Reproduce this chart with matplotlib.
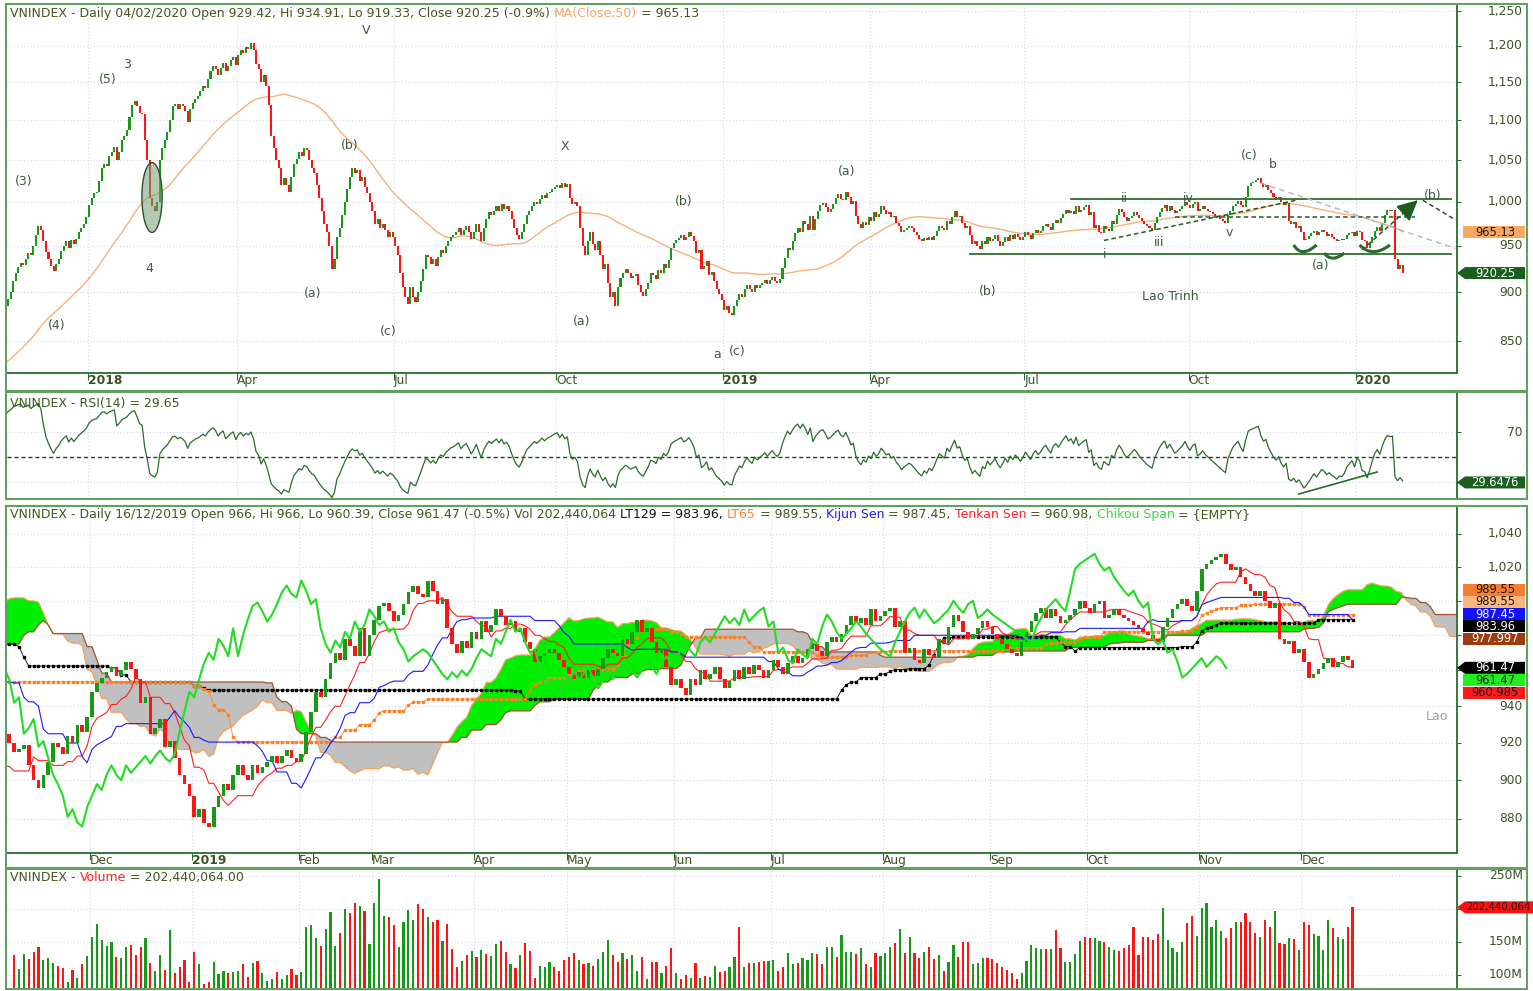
#!/usr/bin/env python3
"""VNINDEX daily chart: price + MA50, RSI(14), Ichimoku panel and volume."""

import matplotlib
matplotlib.use("Agg")
import matplotlib.pyplot as plt
import numpy as np
import pandas as pd
from matplotlib.patches import Ellipse, PathPatch, Polygon, Rectangle
from matplotlib.path import Path
from matplotlib.ticker import NullLocator
from matplotlib.transforms import blended_transform_factory

W, H = 1533, 991
plt.rcParams["font.family"] = ["DejaVu Sans"]

OLIVE = "#3f5a1f"
TICK = "#3b5323"
DARK = "#2b6b2b"
FRAME = "#62a062"
GRID = "#dadaf0"
UP = "#179a17"
DOWN = "#ff1414"
LABEL = "#3e5b3e"

HOLIDAYS = [
    "2018-01-01", "2018-02-14", "2018-02-15", "2018-02-16", "2018-02-19", "2018-02-20",
    "2018-04-25", "2018-04-30", "2018-05-01", "2018-09-03",
    "2019-01-01", "2019-02-04", "2019-02-05", "2019-02-06", "2019-02-07", "2019-02-08",
    "2019-04-15", "2019-04-29", "2019-04-30", "2019-05-01", "2019-09-02",
    "2020-01-01", "2020-01-23", "2020-01-24", "2020-01-27", "2020-01-28", "2020-01-29",
]

# daily closes from 2017-09-05 (first 53 sessions only feed MA/RSI)
close_2017 = [
    800, 803, 805, 802, 804, 806, 808, 806, 807, 810, 812, 809, 807, 804, 800, 797, 801, 803, 804,
    808, 812, 815, 818, 821, 820, 824, 826, 829, 832, 830, 835, 838, 835, 831, 829, 833, 836, 833, 837, 836, 838,
    842, 848, 851, 858, 863, 870, 868, 875, 882, 888, 886, 893, 900, 912, 920, 927, 931, 929, 936, 942, 940, 950,
    962, 972, 968, 955, 943, 935, 928, 922, 930, 935, 944, 950, 955, 948, 956, 952, 958, 965, 970, 975, 982,
]
close_2018 = [
    996, 1005, 1010, 1012, 1025, 1040, 1045, 1043, 1055, 1060, 1066, 1050, 1060, 1075, 1080, 1088, 1105, 1120, 1125, 1118, 1110, 1108,
    1075, 1050, 1005, 995, 990, 1000, 1050, 1065, 1075, 1085, 1100, 1118, 1121, 1115, 1121,
    1118, 1112, 1098, 1115, 1122, 1128, 1132, 1138, 1145, 1142, 1155, 1165, 1172, 1168, 1160, 1170, 1176, 1165, 1172, 1180, 1185, 1174,
    1188, 1195, 1190, 1198, 1196, 1204, 1195, 1175, 1168, 1150, 1160, 1145, 1120, 1080, 1065, 1050, 1040, 1020, 1028,
    1020, 1012, 1030, 1045, 1052, 1060, 1055, 1065, 1062, 1050, 1040, 1035, 1020, 1005, 990, 975, 965, 950, 925, 935, 960, 970,
    985, 1000, 1015, 1030, 1040, 1035, 1038, 1025, 1030, 1018, 1010, 1000, 990, 975, 980, 970, 975, 968, 960, 965, 960,
    950, 940, 920, 905, 895, 888, 905, 895, 890, 900, 912, 925, 940, 938, 930, 935, 928, 938, 945, 942, 950, 955,
    960, 962, 966, 970, 962, 968, 972, 966, 958, 965, 975, 965, 955, 970, 980, 988, 985, 990, 995, 990, 998, 992, 995,
    990, 980, 970, 962, 958, 965, 975, 985, 990, 995, 1000, 998, 1003, 1008, 1005, 1010, 1012, 1015, 1018,
    1020, 1016, 1022, 1018, 1021, 1005, 998, 1000, 995, 970, 950, 940, 955, 965, 952, 945, 955, 940, 925, 930, 910, 895, 900,
    885, 905, 915, 920, 925, 920, 915, 917, 919, 908, 900, 896, 903, 910, 920, 918, 914, 924, 920, 930, 926, 934,
    948, 953, 956, 959, 962, 957, 960, 965, 961, 955, 942, 945, 925, 928, 933, 918, 921, 912, 903, 898, 892,
]
close_2019 = [
    881, 885, 878, 876, 886, 892, 898, 895, 903, 908, 903, 900, 908, 904, 907, 910, 913, 909, 913, 916, 912, 910,
    914, 926, 937, 948, 945, 955, 964, 970, 966, 978, 974, 968, 984, 968, 980,
    989, 997, 999, 994, 988, 992, 998, 1005, 1009, 1004, 1002, 1012, 1006, 998, 1001, 984, 975, 970, 977, 973, 982,
    978, 988, 982, 986, 995, 991, 986, 988, 982, 984, 976, 972, 965, 968, 970, 972, 970, 966, 962,
    958, 955, 959, 956, 960, 957, 961, 967, 972, 970, 968, 978, 975, 982, 989, 982, 984, 976, 970, 972, 962, 952,
    955, 950, 946, 955, 952, 960, 955, 958, 962, 955, 950, 954, 960, 955, 962, 958, 963, 960, 956, 960,
    966, 962, 958, 964, 968, 964, 967, 972, 975, 971, 968, 976, 979, 976, 981, 986, 991, 987, 990, 986, 995, 988, 991,
    994, 996, 985, 988, 970, 973, 966, 964, 972, 969, 967, 978, 975, 985, 992, 988, 982, 978, 981, 984, 988, 985,
    981, 978, 975, 972, 970, 968, 976, 982, 988, 993, 996, 990, 995, 991, 987, 989, 992, 995, 1000, 996,
    993, 998, 1000, 990, 992, 995, 992, 990, 988, 986, 984, 982, 980, 978, 976, 985, 990, 995, 998, 1001, 997, 994, 1006,
    1019, 1022, 1024, 1026, 1028, 1022, 1018, 1020, 1014, 1010, 1006, 1003, 1006, 1000, 996, 999, 978, 975, 977, 970, 972,
    965, 956, 958, 961, 964, 967, 962, 965, 968, 966, 961.47, 963, 960, 958, 955, 957, 956, 958, 962, 964, 966, 961,
]
close_2020 = [967, 965, 956, 955, 948, 953, 960, 967, 971, 967, 976, 985, 991, 990, 991, 936, 925, 929, 920.25]

# daily volume in millions, 2018-11-09 .. 2019-12-16
volume_m = [
    130.3, 109.1, 131.4, 124.3, 134.4, 142.0, 122.8, 125.3, 117.7, 113.2, 110.2, 88.9, 107.6, 95.0, 116.7, 128.3,
    157.1, 176.8, 153.1, 144.5, 150.6, 127.8, 125.3, 143.0, 145.5, 130.3, 143.0, 155.6, 117.7, 106.1, 130.3, 107.6, 168.2, 102.6, 111.7, 122.8, 90.0,
    134.4, 116.7, 85.9, 90.0, 120.2, 101.1, 106.1, 102.6, 105.1, 106.1, 116.7, 96.5, 117.7, 121.8, 102.6, 91.0, 94.0, 104.1, 94.0, 100.0, 109.1, 100.0,
    104.1, 172.3, 175.3, 155.6, 144.0, 169.7, 196.0, 144.5, 163.2, 200.0, 193.5, 209.6, 204.6, 197.0, 146.5,
    209.6, 245.0, 189.4, 188.4, 175.8, 142.0, 179.8, 198.5, 183.4, 207.1, 200.0, 188.4, 179.8, 183.4, 151.6, 177.3, 139.4, 111.7, 121.3, 130.3, 136.9,
    127.8, 137.9, 131.4, 129.3, 147.0, 151.6, 135.4, 116.7, 110.2, 130.3, 148.0, 136.4, 95.0, 114.2, 111.7, 120.2, 112.7, 106.1, 122.8,
    126.8, 132.9, 122.8, 116.7, 117.7, 114.2, 123.8, 134.4, 153.1, 130.3, 119.2, 132.9, 124.3, 130.3, 106.1, 126.8, 94.0, 119.2, 119.2, 103.6, 113.7, 140.5,
    102.6, 94.0, 100.0, 95.0, 117.7, 95.0, 98.5, 97.5, 114.2, 104.1, 106.1, 112.7, 127.8, 173.3, 112.7, 118.7, 118.7, 120.2, 121.3, 121.3,
    122.3, 106.1, 112.7, 133.9, 116.7, 117.7, 125.3, 122.8, 132.9, 131.4, 116.7, 142.0, 142.0, 126.8, 160.7, 134.4, 134.4, 131.4, 140.5, 116.7, 111.7, 132.9, 129.3,
    132.9, 143.0, 148.0, 169.7, 132.9, 157.1, 132.9, 125.3, 134.4, 142.0, 123.8, 130.3, 106.1, 120.2, 145.5, 127.8, 150.6, 150.6, 116.7, 118.7, 125.3, 125.3,
    124.3, 118.7, 112.7, 107.6, 102.6, 94.0, 102.6, 121.3, 145.5, 141.5, 139.4, 138.9, 138.9, 168.2, 140.5, 119.2, 120.2, 131.4, 151.6, 157.1,
    156.6, 155.6, 151.6, 149.5, 143.0, 137.9, 136.9, 140.5, 145.5, 172.3, 130.3, 157.1, 157.1, 153.1, 162.2, 201.1, 153.1, 141.5, 135.4, 149.5, 178.3, 189.4, 159.1,
    201.1, 208.6, 172.3, 183.4, 166.7, 156.6, 170.8, 179.8, 179.8, 193.5, 179.8, 163.2, 158.1, 183.4, 172.3, 197.5, 148.0, 146.5, 156.6, 154.6, 137.9,
    180.8, 175.8, 162.2, 159.1, 137.9, 183.4, 170.8, 158.1, 154.6, 172.3, 202.4,
]

price_ticks = [("2018-01-01", "2018"), ("2018-04-01", "Apr"), ("2018-07-01", "Jul"), ("2018-10-01", "Oct"),
               ("2019-01-01", "2019"), ("2019-04-01", "Apr"), ("2019-07-01", "Jul"), ("2019-10-01", "Oct"),
               ("2020-01-01", "2020")]
ichi_ticks = [("2018-12-01", "Dec"), ("2019-01-01", "2019"), ("2019-02-01", "Feb"), ("2019-03-01", "Mar"),
              ("2019-04-01", "Apr"), ("2019-05-01", "May"), ("2019-06-01", "Jun"), ("2019-07-01", "Jul"),
              ("2019-08-01", "Aug"), ("2019-09-01", "Sep"), ("2019-10-01", "Oct"), ("2019-11-01", "Nov"),
              ("2019-12-01", "Dec")]

# wave counts written on the price panel (text, x px, y px)
wave_labels = [
    ("V", 366, 30), ("3", 127, 64), ("(5)", 108, 80), ("(3)", 24, 182), ("4", 149, 269), ("(4)", 57, 325),
    ("(b)", 350, 145), ("X", 565, 146), ("(a)", 313, 294), ("(c)", 388, 332), ("(a)", 582, 321),
    ("(b)", 684, 202), ("a", 717, 354), ("(c)", 737, 352), ("(a)", 847, 172), ("(b)", 988, 291),
    ("ii", 1124, 199), ("iv", 1188, 199), ("i", 1105, 254), ("iii", 1159, 243), ("v", 1229, 232),
    ("(c)", 1249, 156), ("b", 1273, 165), ("(b)", 1433, 195), ("(a)", 1321, 266), ("Lao Trinh", 1170, 297),
]


def rect(x0, y0, x1, y1):
    return [x0 / W, 1 - y1 / H, (x1 - x0) / W, (y1 - y0) / H]


def trading_calendar():
    cal = pd.bdate_range("2017-09-05", "2020-04-30")
    return cal[~cal.isin(pd.to_datetime(HOLIDAYS))]


CAL = trading_calendar()


def pos(d):
    return int(CAL.searchsorted(pd.Timestamp(d)))


def candles(ax, x, o, c, width):
    lo = np.minimum(o, c)
    hi = np.maximum(o, c)
    h = np.maximum(hi - lo, lo * 0.0012)
    colors = np.where(c >= o, UP, DOWN)
    ax.bar(x, h, bottom=lo, width=width, color=colors, linewidth=0, zorder=3)


def base_style(ax, xlim, ylim, yticks, ticks, show_dates, log=False, bottom_spine=False):
    if log:
        ax.set_yscale("log")
    ax.set_xlim(*xlim)
    ax.set_ylim(*ylim)
    ax.set_yticks(yticks)
    ax.yaxis.set_minor_locator(NullLocator())
    ax.xaxis.set_minor_locator(NullLocator())
    xs = [pos(d) - 0.5 for d, _ in ticks]
    ax.set_xticks(xs)
    for s in ("top", "left"):
        ax.spines[s].set_visible(False)
    ax.spines["right"].set_color(DARK)
    ax.spines["right"].set_linewidth(1.3)
    ax.spines["bottom"].set_visible(bottom_spine)
    ax.spines["bottom"].set_color(DARK)
    ax.spines["bottom"].set_linewidth(1.3)
    ax.tick_params(axis="y", left=False, right=True, labelleft=False, labelright=False,
                   direction="out", length=3, color=DARK)
    if show_dates:
        ax.set_xticklabels([lab for _, lab in ticks], ha="left", fontsize=8.8, color=TICK)
        for t in ax.get_xticklabels():
            if t.get_text().isdigit():
                t.set_fontweight("bold")
        ax.tick_params(axis="x", direction="out", length=5, color=DARK, pad=-4)
    else:
        ax.tick_params(axis="x", length=0, labelbottom=False)
    ax.grid(True, color=GRID, linestyle=":", linewidth=0.9)
    ax.set_axisbelow(True)
    ax.patch.set_visible(False)


def ylabels(ax, values, texts):
    tr = blended_transform_factory(ax.transAxes, ax.transData)
    for v, t in zip(values, texts):
        ax.text(1.0455, v, t, transform=tr, ha="right", va="center", fontsize=8.8, color=TICK, clip_on=False)


def ypix(ax, value):
    return H - ax.transData.transform((ax.get_xlim()[0], value))[1]


def tag(ov, y, text, fc, tc, arrow=False, x0=1463, x1=1525, left_text=False, size=8.3):
    h = 6.0
    if arrow:
        verts = [(1457, y), (1465, y - h), (x1, y - h), (x1, y + h), (1465, y + h)]
    else:
        verts = [(x0, y - h), (x1, y - h), (x1, y + h), (x0, y + h)]
    ov.add_patch(Polygon(verts, closed=True, fc=fc, ec="none", zorder=5))
    if left_text:
        ov.text(1466, y, text, ha="left", va="center", fontsize=size, color=tc, zorder=6)
    else:
        ov.text((x0 + x1) / 2 + 1, y, text, ha="center", va="center", fontsize=size, color=tc, zorder=6)


def chain_text(fig, ov, x, y, parts, size=9.0):
    # lay the coloured pieces one after another on a common baseline
    renderer = fig.canvas.get_renderer()
    for s, col in parts:
        t = ov.text(x, y, s, color=col, fontsize=size, ha="left", va="center_baseline")
        x += t.get_window_extent(renderer).width


def smile(ax, pts, color):
    (d0, p0), (d1, p1), (d2, p2) = pts
    ctrl = 2 * p1 - (p0 + p2) / 2
    path = Path([(pos(d0), p0), (pos(d1), ctrl), (pos(d2), p2)], [Path.MOVETO, Path.CURVE3, Path.CURVE3])
    ax.add_patch(PathPatch(path, fc="none", ec=color, lw=2.2, zorder=5))


def rsi(series, n=14):
    delta = series.diff()
    gain = delta.clip(lower=0).ewm(alpha=1 / n, adjust=False).mean()
    loss = (-delta.clip(upper=0)).ewm(alpha=1 / n, adjust=False).mean()
    return 100 - 100 / (1 + gain / loss)


def main():
    closes = pd.Series(close_2017 + close_2018 + close_2019 + close_2020, dtype=float)
    opens = closes.shift(1).fillna(closes.iloc[0])
    x_all = np.arange(len(closes))

    fig = plt.figure(figsize=(W / 100, H / 100), dpi=100)
    ax_p = fig.add_axes(rect(7, 5, 1457, 373))
    ax_r = fig.add_axes(rect(7, 393, 1457, 499))
    ax_i = fig.add_axes(rect(7, 507, 1457, 853))
    ax_v = fig.add_axes(rect(7, 870, 1457, 988))
    ov = fig.add_axes([0, 0, 1, 1], zorder=10)
    ov.set_xlim(0, W)
    ov.set_ylim(H, 0)
    ov.axis("off")

    # ---------------- price panel ----------------
    left = pos("2018-01-02") - (89 - 7) / 2.531
    p_xlim = (left, left + 1450 / 2.531)
    base_style(ax_p, p_xlim, (818.8, 1258.8), list(range(850, 1251, 50)), price_ticks, True,
               log=True, bottom_spine=True)
    ylabels(ax_p, range(850, 1251, 50), [f"{v:,}" for v in range(850, 1251, 50)])
    candles(ax_p, x_all, opens.values, closes.values, 0.8)
    ma50 = closes.rolling(50).mean()
    ax_p.plot(x_all, ma50, color="#f7b07a", lw=1.0, zorder=2)

    line_c = "#2f6f2f"
    ax_p.plot([pos("2019-07-25"), pos("2020-03-02")], [1004, 1004], color=line_c, lw=1.3, zorder=4)
    ax_p.plot([pos("2019-05-30"), pos("2020-03-02")], [941, 941], color=line_c, lw=1.3, zorder=4)
    ax_p.plot([pos("2019-09-23"), pos("2020-02-11")], [982.5, 982.5], color="#235c23", lw=1.1,
              ls=(0, (3, 2)), zorder=4)
    ax_p.plot([pos("2019-08-13"), pos("2019-11-28")], [956, 1002], color="#235c23", lw=1.1,
              ls=(0, (3, 2)), zorder=4)
    ax_p.plot([pos("2019-11-08"), pos("2020-03-04")], [1022.4, 947], color="#b5b5b5", lw=1.0,
              ls=(0, (4, 3)), zorder=4)
    ax_p.plot([pos("2020-02-14"), pos("2020-03-04")], [1002, 979], color="#235c23", lw=1.1,
              ls=(0, (3, 2)), zorder=4)
    a0, a1 = pos("2020-01-06"), pos("2020-02-12")
    ax_p.plot([a0, a1], [945.5, 1002], color="#235c23", lw=1.1, ls=(0, (3, 2)), zorder=4)
    f = 0.8
    ax_p.annotate("", xy=(a1, 1002), xytext=(a0 + f * (a1 - a0), 945.5 * (1002 / 945.5) ** f),
                  arrowprops=dict(arrowstyle="-|>,head_length=0.9,head_width=0.45", color="#1f5a1f",
                                  lw=1.2, shrinkA=0, shrinkB=0, mutation_scale=14), zorder=5)
    ax_p.add_patch(Ellipse((pos("2018-02-06") - 0.1, 1006), width=8, height=82,
                           fc=(0.45, 0.62, 0.45, 0.55), ec="#2f4f2f", lw=1.0, zorder=4))
    smile(ax_p, [("2019-11-27", 951), ("2019-12-02", 943.5), ("2019-12-10", 951)], "#2a6a2a")
    smile(ax_p, [("2019-12-13", 942), ("2019-12-18", 936.4), ("2019-12-25", 942)], "#2a6a2a")
    smile(ax_p, [("2020-01-03", 951), ("2020-01-10", 943.5), ("2020-01-21", 951)], "#2a6a2a")

    # ---------------- RSI panel ----------------
    rsi14 = rsi(closes)
    base_style(ax_r, p_xlim, (16.4, 101.2), [30, 70], price_ticks, False)
    ylabels(ax_r, [70], ["70"])
    ax_r.axhline(50, color="#1f4f1f", lw=1.0, ls=(0, (3, 2)), zorder=2)
    ax_r.plot(x_all, rsi14, color="#2d6a2d", lw=0.9, zorder=3)
    ax_r.plot([pos("2019-11-29"), pos("2020-01-14")], [20.4, 38], color="#2a6a2a", lw=1.2, zorder=4)

    # ---------------- Ichimoku panel ----------------
    g_end = pos("2019-12-16")
    c = closes.iloc[:g_end + 1]
    o = opens.iloc[:g_end + 1]
    hi = np.maximum(o, c)
    lo = np.minimum(o, c)

    def mid(n):
        return (hi.rolling(n).max() + lo.rolling(n).min()) / 2

    tenkan, kijun = mid(9), mid(26)
    span_a = (tenkan + kijun) / 2
    span_b = mid(52)
    lt129, lt65 = mid(129), mid(65)
    xi = np.arange(len(c))
    xs = xi + 26

    ileft = pos("2018-12-03") - (92 - 7) / 4.867
    base_style(ax_i, (ileft, ileft + 1450 / 4.867), (862.5, 1056.6), list(range(880, 1041, 20)),
               ichi_ticks, True, log=True, bottom_spine=True)
    # 960-1,000 sit behind the value tags
    ylabels(ax_i, [880, 900, 920, 940, 1020, 1040], ["880", "900", "920", "940", "1,020", "1,040"])
    a_vals, b_vals = span_a.values, span_b.values
    ax_i.fill_between(xs, a_vals, b_vals, where=a_vals >= b_vals, color="#00ee00", lw=0,
                      interpolate=True, zorder=1)
    ax_i.fill_between(xs, a_vals, b_vals, where=a_vals < b_vals, color="#c0c0c0", lw=0,
                      interpolate=True, zorder=1)
    ax_i.plot(xs, a_vals, color="#f6a25a", lw=0.9, zorder=1.5)
    ax_i.plot(xs, b_vals, color="#a0522d", lw=0.9, zorder=1.5)
    ax_i.plot(xi, lt129, color="black", lw=0.6, marker="s", ms=2.0, zorder=2)
    ax_i.plot(xi, lt65, color="#ff7f27", lw=0.6, marker="s", ms=2.0, zorder=2)
    ax_i.plot(xi, tenkan, color="#ff2020", lw=0.8, zorder=2.5)
    ax_i.plot(xi, kijun, color="#1a1aff", lw=0.8, zorder=2.5)
    candles(ax_i, xi, o.values, c.values, 0.75)
    ax_i.plot(xi - 26, c.values, color="#22dd22", lw=1.5, zorder=3.5)

    # ---------------- volume panel ----------------
    base_style(ax_v, (ileft, ileft + 1450 / 4.867), (80.3, 259), [100, 150, 200, 250], ichi_ticks, False)
    ylabels(ax_v, [100, 150, 250], ["100M", "150M", "250M"])
    v0 = pos("2018-11-09")
    xv = np.arange(v0, v0 + len(volume_m))
    vcol = np.where(closes.values[xv] >= opens.values[xv], UP, DOWN)
    ax_v.bar(xv, volume_m, width=0.45, color=vcol, linewidth=0, zorder=3)

    # ---------------- frames, titles, labels, tags ----------------
    for y0, y1 in ((4, 391), (392, 499), (506, 868), (869, 989)):
        ov.add_patch(Rectangle((6, y0), 1521, y1 - y0, fill=False, ec=FRAME, lw=1.5))

    chain_text(fig, ov, 10, 12, [("VNINDEX - Daily 04/02/2020 Open 929.42, Hi 934.91, Lo 919.33, Close 920.25 (-0.9%) ", OLIVE),
                                 ("MA(Close,50)", "#f5a868"), (" = 965.13", OLIVE)])
    chain_text(fig, ov, 10, 402, [("VNINDEX - RSI(14) = 29.65", OLIVE)])
    chain_text(fig, ov, 10, 513, [("VNINDEX - Daily 16/12/2019 Open 966, Hi 966, Lo 960.39, Close 961.47 (-0.5%) Vol 202,440,064 ", OLIVE),
                                  ("LT129 = 983.96, ", "#111111"), ("LT65", "#ff7f27"), (" = 989.55, ", OLIVE),
                                  ("Kijun Sen", "#1a1aff"), (" = 987.45, ", OLIVE), ("Tenkan Sen", "#ff2020"),
                                  (" = 960.98, ", OLIVE), ("Chikou Span", "#33dd33"), (" = {EMPTY}", OLIVE)])
    chain_text(fig, ov, 10, 876, [("VNINDEX - ", OLIVE), ("Volume", "#ff2020"), (" = 202,440,064.00", OLIVE)])

    for text, px, py in wave_labels:
        ov.text(px, py, text, ha="center", va="center", fontsize=9, color=LABEL)
    ov.text(1437, 716, "Lao", ha="center", va="center", fontsize=9, color="#a0a0a0")

    tag(ov, ypix(ax_p, 965.13), "965.13", "#f8a862", "#1a1a1a")
    tag(ov, ypix(ax_p, 920.25), "920.25", "#1b5e20", "white", arrow=True)
    tag(ov, ypix(ax_r, 29.6476), "29.6476", "#1b5e20", "white", arrow=True)

    base_hi = ypix(ax_i, 977.997)
    upper = [("977.997", "#9c3a10", "white"), ("983.96", "black", "white"), ("987.45", "#1212ff", "white"),
             ("989.55", "#fbb77b", "#1a1a1a"), ("989.55", "#f57e33", "#1a1a1a")]
    for k, (t, fc, tc) in enumerate(upper):
        tag(ov, base_hi - 12.3 * k, t, fc, tc)
    base_lo = ypix(ax_i, 961.47)
    tag(ov, base_lo, "961.47", "black", "white", arrow=True)
    tag(ov, base_lo + 12.5, "961.47", "#22ee22", "#1a1a1a")
    tag(ov, base_lo + 25, "960.985", "#ff1a1a", "#1a1a1a")
    tag(ov, ypix(ax_v, 202.44), "202,440,064", "#ff1010", "#1a1a1a", arrow=True, x1=W + 5,
        left_text=True, size=7.4)

    fig.savefig("out.png", dpi=100)
    plt.close(fig)


if __name__ == "__main__":
    main()
